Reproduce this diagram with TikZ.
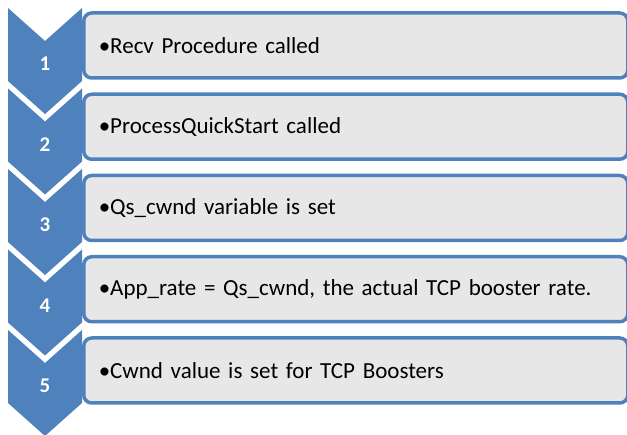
\documentclass[tikz,border=0pt]{standalone}
\usepackage{fontspec}
\setmainfont{Carlito}
\usepackage{tikz}

\definecolor{stepblue}{HTML}{4F81BD}
\definecolor{stepgray}{HTML}{E7E7E7}

\tikzset{
  stepbox/.style={shape=rectangle, draw=stepblue, fill=stepgray, line width=3.5pt,
    rounded corners=8pt, anchor=west, minimum width=544pt, minimum height=65pt,
    inner xsep=15pt, text width=514pt, align=left, font=\fontsize{23}{27}\selectfont},
  stepnum/.style={text=white, inner sep=0, font=\fontsize{21}{25}\selectfont\bfseries}
}

\begin{document}
\begin{tikzpicture}[x=1pt, y=-1pt]
	\useasboundingbox (0, 0) rectangle (627, 435);
	% Boxes:
	\node[stepbox] (box1) at (82, 45.5) {•Recv Procedure called};
	\node[stepbox] (box2) at (82, 126.75) {•ProcessQuickStart called};
	\node[stepbox] (box3) at (82, 208) {•Qs\_cwnd variable is set};
	\node[stepbox] (box4) at (82, 289.25) {•App\_rate = Qs\_cwnd, the actual TCP booster rate.};
	\node[stepbox] (box5) at (82, 370.5) {•Cwnd value is set  for TCP Boosters};
	% Chevrons:
	\fill[stepblue] (8, 8) -- (45, 41) -- (82, 8) -- (82, 81) -- (45, 114) -- (8, 81) -- cycle;
	\fill[stepblue] (8, 88.5) -- (45, 121.5) -- (82, 88.5) -- (82, 161.5) -- (45, 194.5) -- (8, 161.5) -- cycle;
	\fill[stepblue] (8, 169) -- (45, 202) -- (82, 169) -- (82, 242) -- (45, 275) -- (8, 242) -- cycle;
	\fill[stepblue] (8, 249.5) -- (45, 282.5) -- (82, 249.5) -- (82, 322.5) -- (45, 355.5) -- (8, 322.5) -- cycle;
	\fill[stepblue] (8, 330) -- (45, 363) -- (82, 330) -- (82, 403) -- (45, 436) -- (8, 403) -- cycle;
	% Numbers:
	\node[stepnum] (num1) at (45, 64) {1};
	\node[stepnum] (num2) at (45, 144.5) {2};
	\node[stepnum] (num3) at (45, 225) {3};
	\node[stepnum] (num4) at (45, 305.5) {4};
	\node[stepnum] (num5) at (45, 386) {5};
\end{tikzpicture}
\end{document}
